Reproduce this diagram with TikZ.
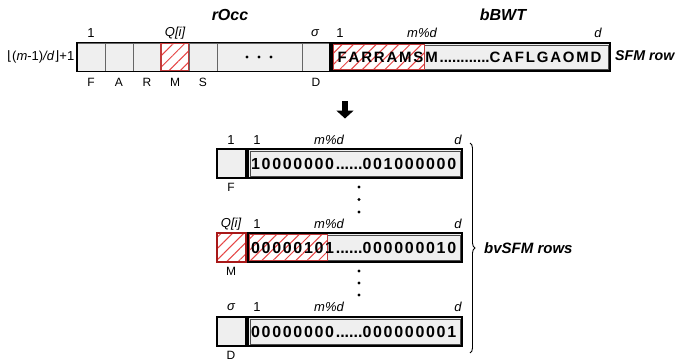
\documentclass[tikz,border=0pt]{standalone}
\usepackage{fontspec}
\setmainfont{Liberation Sans}
\newfontfamily\symfont{DejaVu Sans}
\usetikzlibrary{patterns.meta,decorations.pathreplacing,arrows.meta}
\definecolor{boxfill}{HTML}{EFEFEF}
\definecolor{hatchred}{HTML}{E64545}
\definecolor{darkred}{HTML}{A81818}
\newcommand\myspread[2]{\def\myspreadkern{#1}\myspreadloop#2\relax}
\def\myspreadloop#1{\ifx#1\relax\else#1\kern\myspreadkern\expandafter\myspreadloop\fi}
\tikzset{
  cellbox/.style={draw=black!60, line width=0.8pt, fill=boxfill, minimum height=28pt, inner sep=0pt},
  outerbox/.style={draw=black, line width=1.8pt, minimum height=29pt, inner sep=0pt},
  bigbox/.style={draw=black, line width=1.8pt, fill=boxfill, minimum height=29pt, minimum width=214pt, inner sep=0pt},
  smallbox/.style={draw=black, line width=1.8pt, fill=boxfill, minimum height=29pt, minimum width=29pt, inner sep=0pt},
  innerline/.style={draw=black!70, line width=0.6pt},
  hatch/.style={preaction={fill=white}, pattern={Lines[angle=45,distance=8pt,line width=1pt]}, pattern color=hatchred},
  lab/.style={inner sep=0pt, font=\fontsize{13}{15}\selectfont},
  ilab/.style={inner sep=0pt, font=\fontsize{13}{15}\selectfont\itshape},
  letlab/.style={inner sep=0pt, font=\fontsize{12}{14}\selectfont},
  title/.style={inner sep=0pt, font=\fontsize{16}{18}\selectfont\bfseries\itshape},
  seqtext/.style={inner sep=0pt, font=\fontsize{15}{17}\selectfont\bfseries},
  bittext/.style={inner sep=0pt, font=\fontsize{16}{18}\selectfont\bfseries},
  vdot/.style={circle, fill=black, inner sep=0pt, minimum size=3.4pt}
}
\begin{document}
\begin{tikzpicture}[x=1pt,y=-1pt]
\useasboundingbox (0,0) rectangle (675,364);
% ---------- top row: rOcc ----------
\node[title] (rocct) at (230,15) {rOcc};
\node[title] (bbwtt) at (503,15) {bBWT};
\node[cellbox, minimum width=28pt] (c1) at (91,57) {};
\node[cellbox, minimum width=28pt] (c2) at (119,57) {};
\node[cellbox, minimum width=28pt] (c3) at (147,57) {};
\node[cellbox, minimum width=28pt, hatch, draw=hatchred!85!black, line width=1.2pt] (c4) at (175,57) {};
\node[cellbox, minimum width=28pt] (c5) at (203,57) {};
\node[cellbox, minimum width=85pt] (c6) at (259.5,57) {};
\node[cellbox, minimum width=28pt] (c7) at (316,57) {};
\node[outerbox, minimum width=253pt] (rocc) at (203.5,57) {};
\node[vdot] (hd1) at (247,57) {};
\node[vdot] (hd2) at (259,57) {};
\node[vdot] (hd3) at (271,57) {};
\node[lab] (t1) at (91,33) {1};
\node[ilab] (tq) at (175,33) {Q[i]};
\node[ilab] (ts) at (315,33) {σ};
\node[letlab] (lF) at (91,82) {F};
\node[letlab] (lA) at (119,82) {A};
\node[letlab] (lR) at (147,82) {R};
\node[letlab] (lM) at (175,82) {M};
\node[letlab] (lS) at (203,82) {S};
\node[letlab] (lD) at (316,82) {D};
\node[lab, anchor=east] (floorlab) at (74.5,57) {{\symfont ⌊}(\textit{m}-1)\textit{/d}{\symfont ⌋}+1};
% ---------- top row: bBWT ----------
\node[bigbox, minimum width=278pt, minimum height=28pt] (bbwt) at (471,57) {};
\draw[innerline] ([shift={(3,3)}]bbwt.north west) rectangle ([shift={(-3,-3)}]bbwt.south east);
\draw[hatch, draw=hatchred!85!black, line width=1.1pt] ([shift={(2.5,2.5)}]bbwt.north west) rectangle ([shift={(93,-2.5)}]bbwt.south west);
\node[seqtext] (bseq) at (470.5,57) {\myspread{1.8pt}{FARRAMSM}............\myspread{1.8pt}{CAFLGAOMD}};
\node[lab] (b1) at (340,33) {1};
\node[ilab] (bm) at (422,33) {m\%d};
\node[ilab] (bd) at (598,33) {d};
\node[title, anchor=west, font=\fontsize{14.2}{17}\selectfont\bfseries\itshape] (sfm) at (615,56) {SFM row};
% ---------- arrow ----------
\coordinate (arrtop) at (345,101);
\coordinate (arrtip) at (345,118.5);
\draw[line width=5.5pt, -{Triangle[width=17pt,length=8pt]}] (arrtop) -- (arrtip);
% ---------- row 1 ----------
\node[smallbox] (s1) at (231.5,163.5) {};
\node[bigbox] (r1) at (355,163.5) {};
\draw[innerline] ([shift={(3,3)}]r1.north west) rectangle ([shift={(-3,-3)}]r1.south east);
\node[bittext] (r1t) at (354.5,163.5) {\myspread{1.7pt}{10000000}......\myspread{1.7pt}{001000000}};
\node[lab] (r1a) at (231,140) {1};
\node[lab] (r1b) at (257,140) {1};
\node[ilab] (r1m) at (329,140) {m\%d};
\node[ilab] (r1d) at (458,140) {d};
\node[letlab] (r1l) at (231,187) {F};
% dots
\node[vdot] (v1) at (359,187) {};
\node[vdot] (v2) at (359,199.5) {};
\node[vdot] (v3) at (359,212) {};
% ---------- row 2 ----------
\node[smallbox, hatch, draw=darkred] (s2) at (231.5,247.5) {};
\node[bigbox] (r2) at (355,247.5) {};
\draw[innerline] ([shift={(3,3)}]r2.north west) rectangle ([shift={(-3,-3)}]r2.south east);
\draw[hatch, draw=hatchred!85!black, line width=1.1pt] ([shift={(2,2)}]r2.north west) rectangle ([shift={(80,-2)}]r2.south west);
\node[bittext] (r2t) at (354.5,247.5) {\myspread{1.7pt}{00000101}......\myspread{1.7pt}{000000010}};
\node[ilab] (r2a) at (231,224) {Q[i]};
\node[lab] (r2b) at (257,224) {1};
\node[ilab] (r2m) at (329,224) {m\%d};
\node[ilab] (r2d) at (458,224) {d};
\node[letlab] (r2l) at (231,271) {M};
\node[vdot] (v4) at (359,271) {};
\node[vdot] (v5) at (359,283) {};
\node[vdot] (v6) at (359,295) {};
% ---------- row 3 ----------
\node[smallbox] (s3) at (231.5,331.5) {};
\node[bigbox] (r3) at (355,331.5) {};
\draw[innerline] ([shift={(3,3)}]r3.north west) rectangle ([shift={(-3,-3)}]r3.south east);
\node[bittext] (r3t) at (354.5,331.5) {\myspread{1.7pt}{00000000}......\myspread{1.7pt}{000000001}};
\node[ilab] (r3a) at (231,307) {σ};
\node[lab] (r3b) at (257,307) {1};
\node[ilab] (r3m) at (329,307) {m\%d};
\node[ilab] (r3d) at (458,307) {d};
\node[letlab] (r3l) at (231,355) {D};
% ---------- brace ----------
\coordinate (bracetop) at (470,143);
\coordinate (bracebot) at (470,353);
\draw[decorate, decoration={brace, amplitude=5pt}, line width=0.9pt] (bracetop) -- (bracebot);
\node[title, anchor=west, font=\fontsize{15}{17}\selectfont\bfseries\itshape] (bvsfm) at (484,248) {bvSFM rows};
\end{tikzpicture}
\end{document}
